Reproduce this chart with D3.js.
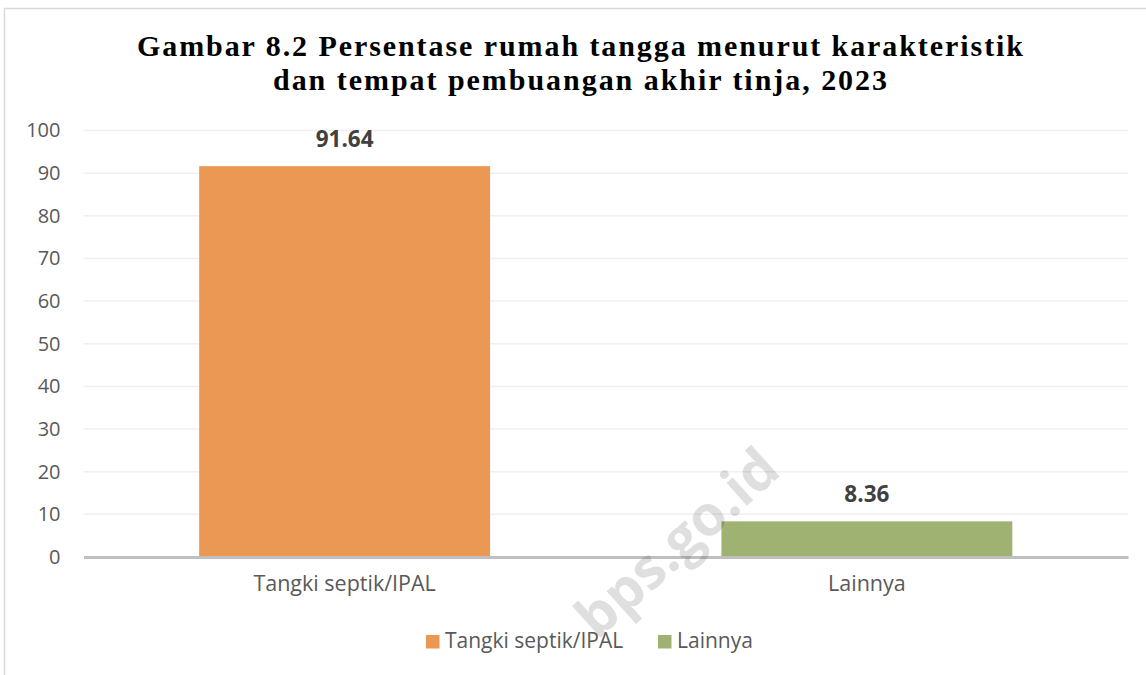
<!DOCTYPE html>
<html>
<head>
<meta charset="utf-8">
<script src="https://cdn.jsdelivr.net/npm/d3@7"></script>
<style>
  body { margin: 0; background: #fff; }
</style>
</head>
<body>
<div id="chart"></div>
<script>
  var categories = ["Tangki septik/IPAL", "Lainnya"];
  var values = [91.64, 8.36];
  var colors = ["#EC9855", "#A0B272"];
  var yTicks = [0, 10, 20, 30, 40, 50, 60, 70, 80, 90, 100];
  var titleLines = ["Gambar 8.2 Persentase rumah tangga menurut karakteristik",
                    "dan tempat pembuangan akhir tinja, 2023"];

  var W = 1146, H = 675;
  var marg = { top: 130.5, right: 18, bottom: 118, left: 83.5 };

  var svg = d3.select("#chart").append("svg")
    .attr("width", W).attr("height", H);

  // outer frame
  svg.append("rect")
    .attr("x", 4.5).attr("y", 8.5)
    .attr("width", W + 20).attr("height", H + 20)
    .attr("fill", "#fff").attr("stroke", "#d9d9d9").attr("stroke-width", 1.5);

  // title
  svg.selectAll(".title").data(titleLines).enter().append("text")
    .attr("class", "title")
    .attr("x", 580)
    .attr("y", function(d, i) { return 56 + i * 34; })
    .attr("text-anchor", "middle")
    .attr("textLength", function(d, i) { return i == 0 ? 886 : 614; })
    .attr("lengthAdjust", "spacing")
    .style("font-family", "'Liberation Serif', serif")
    .style("font-weight", "bold")
    .style("font-size", "30px")
    .style("fill", "#000")
    .text(function(d) { return d; });

  var w = W - marg.left - marg.right;
  var y0 = 557;

  var x = d3.scaleBand().domain(categories).range([marg.left, marg.left + w]).paddingInner(0.443).paddingOuter(0.2215);
  var y = d3.scaleLinear().domain([0, 100]).range([y0, marg.top]);

  // gridlines
  svg.append("g").selectAll("line").data(yTicks.slice(1)).enter().append("line")
    .attr("x1", marg.left).attr("x2", marg.left + w)
    .attr("y1", function(d) { return y(d); }).attr("y2", function(d) { return y(d); })
    .attr("stroke", "#efefef").attr("stroke-width", 1.5);

  // y axis labels
  var yAxis = d3.axisLeft(y).tickValues(yTicks).tickSize(0).tickPadding(23);
  var ga = svg.append("g").attr("transform", "translate(" + marg.left + ",0)").call(yAxis);
  ga.select(".domain").remove();
  ga.selectAll("text")
    .style("font-family", "'Open Sans', sans-serif")
    .style("font-size", "20px")
    .style("fill", "#595959");

  // bars
  svg.selectAll(".bar").data(values).enter().append("rect")
    .attr("class", "bar")
    .attr("x", function(d, i) { return x(categories[i]); })
    .attr("width", x.bandwidth())
    .attr("y", function(d) { return y(d); })
    .attr("height", function(d) { return y0 - y(d); })
    .attr("fill", function(d, i) { return colors[i]; });

  // value labels
  svg.selectAll(".val").data(values).enter().append("text")
    .attr("class", "val")
    .attr("x", function(d, i) { return x(categories[i]) + x.bandwidth() / 2; })
    .attr("y", function(d) { return y(d) - 19.5; })
    .attr("text-anchor", "middle")
    .style("font-family", "'Open Sans', sans-serif")
    .style("font-weight", "bold")
    .style("font-size", "22.5px")
    .style("fill", "#404040")
    .text(function(d) { return d.toFixed(2); });

  // x axis
  var xAxis = d3.axisBottom(x).tickSize(0).tickPadding(19);
  var gx = svg.append("g").attr("transform", "translate(0," + y0 + ")").call(xAxis);
  gx.select(".domain").attr("stroke", "#bfbfbf").attr("stroke-width", 3);
  gx.selectAll("text")
    .style("font-family", "'Open Sans', sans-serif")
    .style("font-size", "21.5px")
    .style("fill", "#595959");

  // legend
  var legX = [426, 658];
  var leg = svg.selectAll(".leg").data(categories).enter().append("g")
    .attr("class", "leg")
    .attr("transform", function(d, i) { return "translate(" + legX[i] + ",635)"; });
  leg.append("rect").attr("width", 13.5).attr("height", 13.5)
    .attr("fill", function(d, i) { return colors[i]; });
  leg.append("text").attr("x", 19).attr("y", 13)
    .style("font-family", "'Open Sans', sans-serif")
    .style("font-size", "21px")
    .style("fill", "#595959")
    .text(function(d) { return d; });

  // watermark
  svg.append("text")
    .attr("transform", "translate(680,546) rotate(-42)")
    .attr("text-anchor", "middle")
    .attr("dominant-baseline", "middle")
    .style("font-family", "'Open Sans', sans-serif")
    .style("font-weight", "bold")
    .style("font-size", "56px")
    .style("fill", "#000")
    .style("opacity", 0.12)
    .text("bps.go.id");
</script>
</body>
</html>
